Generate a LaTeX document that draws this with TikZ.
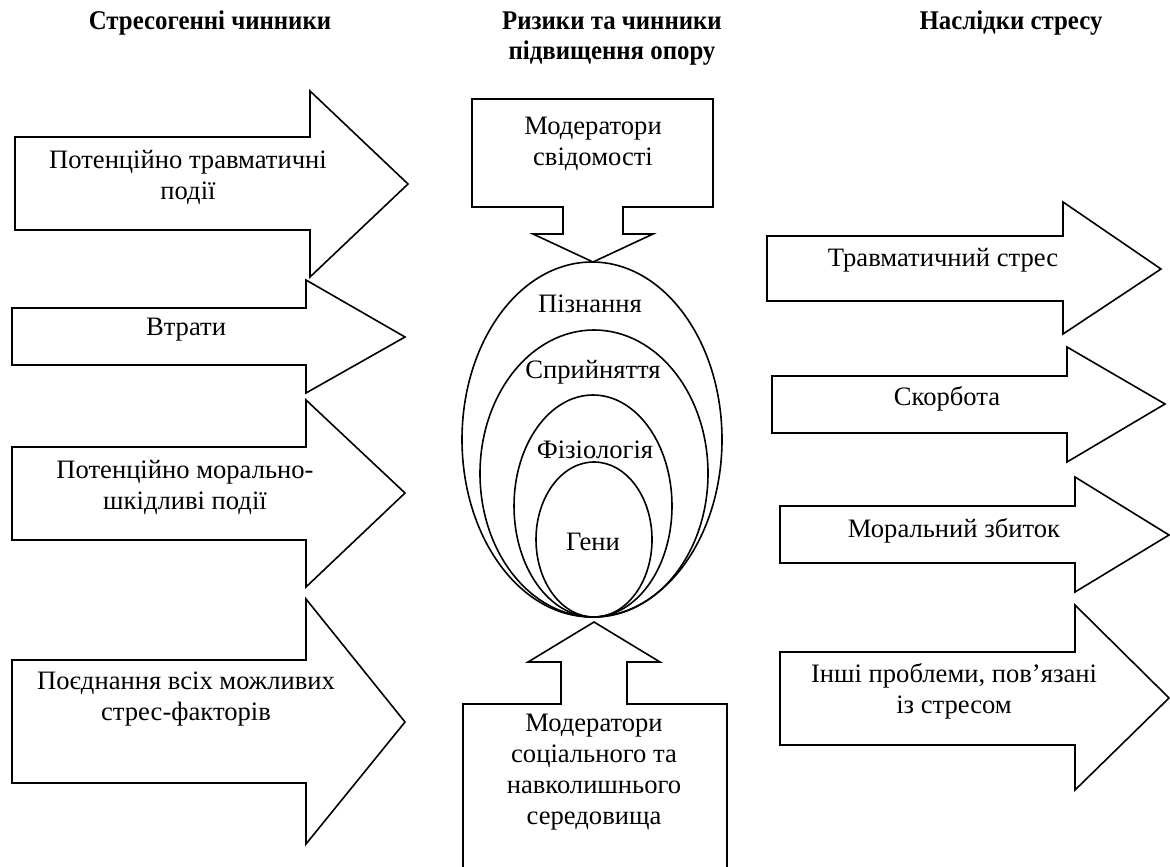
\documentclass[tikz,border=0pt]{standalone}
\usepackage{fontspec}
\setmainfont{Liberation Serif}
\newfontfamily\headfont[FakeStretch=0.92]{Liberation Serif}
\usetikzlibrary{calc}

\begin{document}
\begin{tikzpicture}[x=0.5pt,y=-0.5pt]
\tikzset{
  shape line/.style={line width=0.8pt, line join=miter},
  txt/.style={align=center, inner sep=0pt, font=\fontsize{13.3}{15.5}\selectfont},
  head/.style={align=center, inner sep=0pt, font=\headfont\bfseries\fontsize{13.5}{15}\selectfont}
}
\useasboundingbox (0,0) rectangle (1170,866);

% headers
\node[head] (hleft) at (210,23) {Стресогенні чинники};
\node[head] (hmid) at (612,39) {Ризики та чинники\\підвищення опору};
\node[head] (hright) at (1011,23) {Наслідки стресу};

% left column
\begin{scope}
\draw[shape line] (15,137) -- (310,137) -- (310,91) -- (408,184) -- (310,277) -- (310,230) -- (15,230) -- cycle;
\draw[shape line] (12,308) -- (306,308) -- (306,280) -- (405,337) -- (306,393) -- (306,365) -- (12,365) -- cycle;
\draw[shape line] (12,447) -- (306,447) -- (306,400) -- (405,493) -- (306,587) -- (306,540) -- (12,540) -- cycle;
\draw[shape line] (12,660) -- (306,660) -- (306,599) -- (405,722) -- (306,844) -- (306,783) -- (12,783) -- cycle;

\node[txt] (trauma) at (188,177) {Потенційно травматичні\\події};
\node[txt] (loss) at (186,330) {Втрати};
\node[txt] (moral) at (185,487) {Потенційно морально-\\шкідливі події};
\node[txt] (all) at (186,699) {Поєднання всіх можливих\\стрес-факторів};
\end{scope}

% centre column
\begin{scope}
\coordinate (base) at (593,617);
\draw[shape line] ($(base)+(-1,-177.5)$) ellipse [x radius=130, y radius=177.5];
\draw[shape line] ($(base)+(1,-143.5)$) ellipse [x radius=114, y radius=143.5];
\draw[shape line] ($(base)+(0,-111)$) ellipse [x radius=79, y radius=111];
\draw[shape line] ($(base)+(1,-77.5)$) ellipse [x radius=58, y radius=77.5];

\draw[shape line] (472,99) -- (713,99) -- (713,207) -- (623,207) -- (623,234) -- (653,234) -- (593,262)
  -- (533,234) -- (563,234) -- (563,207) -- (472,207) -- cycle;
\draw[shape line] (463,870) -- (463,704) -- (561,704) -- (561,662) -- (528,662) -- (594,622)
  -- (660,662) -- (627,662) -- (627,704) -- (727,704) -- (727,870);

\node[txt] (mind) at (593,144) {Модератори\\свідомості};
\node[txt] (cogn) at (590,304) {Пізнання};
\node[txt] (perc) at (593,372) {Сприйняття};
\node[txt] (phys) at (595,450) {Фізіологія};
\node[txt] (genes) at (593,542) {Гени};
\node[txt] (env) at (594,772) {Модератори\\соціального та\\навколишнього\\середовища};
\end{scope}

% right column
\begin{scope}
\draw[shape line] (767,236) -- (1063,236) -- (1063,202) -- (1161,269) -- (1063,334) -- (1063,301) -- (767,301) -- cycle;
\draw[shape line] (772,376) -- (1067,376) -- (1067,347) -- (1165,404) -- (1067,462) -- (1067,433) -- (772,433) -- cycle;
\draw[shape line] (780,506) -- (1075,506) -- (1075,477) -- (1169,535) -- (1075,592) -- (1075,563) -- (780,563) -- cycle;
\draw[shape line] (780,652) -- (1075,652) -- (1075,605) -- (1169,698) -- (1075,790) -- (1075,745) -- (780,745) -- cycle;

\node[txt] (tstress) at (943,260) {Травматичний стрес};
\node[txt] (grief) at (947,399) {Скорбота};
\node[txt] (injury) at (954,531) {Моральний збиток};
\node[txt] (other) at (954,691) {Інші проблеми, пов’язані\\із стресом};
\end{scope}

\end{tikzpicture}
\end{document}
